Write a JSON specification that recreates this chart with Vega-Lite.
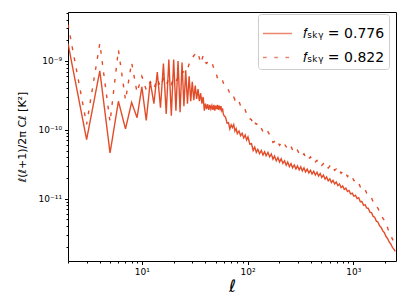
{
"$schema": "https://vega.github.io/schema/vega-lite/v6.json",
"width": 328, "height": 249,
"autosize": {"type": "none"},
"padding": {"left": 68, "top": 12, "right": 11, "bottom": 44},
"background": "white",
"config": {"view": {"stroke": "#000", "strokeWidth": 1}, "font": "DejaVu Sans",
  "legend": {"orient": "none", "legendX": 190, "legendY": 2, "labelFontSize": 14, "labelFont": "DejaVu Sans", "labelColor": "#000", "symbolType": "stroke", "symbolSize": 841, "symbolStrokeWidth": 1.5, "symbolOpacity": 0.6, "strokeColor": "#cccccc", "fillColor": "white", "padding": 4, "cornerRadius": 3, "rowPadding": 1, "labelOffset": 10}},
"data": {"values": [
{"l":2,"c":1.8e-9,"fsky":"0.776"},{"l":3,"c":7.2e-11,"fsky":"0.776"},{"l":4,"c":7.2e-10,"fsky":"0.776"},{"l":5,"c":4.6e-11,"fsky":"0.776"},{"l":6,"c":2.6e-10,"fsky":"0.776"},{"l":7,"c":1.03e-10,"fsky":"0.776"},{"l":8,"c":2.5e-10,"fsky":"0.776"},{"l":9,"c":1.5e-10,"fsky":"0.776"},{"l":10,"c":4.2e-10,"fsky":"0.776"},{"l":11,"c":1.37e-10,"fsky":"0.776"},{"l":12,"c":5.0e-10,"fsky":"0.776"},{"l":13,"c":2.4e-10,"fsky":"0.776"},{"l":14,"c":6.9e-10,"fsky":"0.776"},{"l":15,"c":2.1e-10,"fsky":"0.776"},{"l":16,"c":9.2e-10,"fsky":"0.776"},{"l":17,"c":1.7e-10,"fsky":"0.776"},{"l":18,"c":1.05e-9,"fsky":"0.776"},{"l":19,"c":1.6e-10,"fsky":"0.776"},{"l":20,"c":1.05e-9,"fsky":"0.776"},{"l":21,"c":1.9e-10,"fsky":"0.776"},{"l":22,"c":1.0e-9,"fsky":"0.776"},{"l":23,"c":1.8e-10,"fsky":"0.776"},{"l":24,"c":9.5e-10,"fsky":"0.776"},{"l":25,"c":2.2e-10,"fsky":"0.776"},{"l":26,"c":7.3e-10,"fsky":"0.776"},{"l":27,"c":2.4e-10,"fsky":"0.776"},{"l":28,"c":6.0e-10,"fsky":"0.776"},{"l":29,"c":2.6e-10,"fsky":"0.776"},{"l":30,"c":5.0e-10,"fsky":"0.776"},{"l":31,"c":2.7e-10,"fsky":"0.776"},{"l":32,"c":4.4e-10,"fsky":"0.776"},{"l":33,"c":2.8e-10,"fsky":"0.776"},{"l":34,"c":3.9e-10,"fsky":"0.776"},{"l":35,"c":2.6e-10,"fsky":"0.776"},{"l":36,"c":3.4e-10,"fsky":"0.776"},{"l":37,"c":2.4e-10,"fsky":"0.776"},{"l":38,"c":3.0e-10,"fsky":"0.776"},{"l":39,"c":1.9e-10,"fsky":"0.776"},{"l":40,"c":2.4e-10,"fsky":"0.776"},{"l":41,"c":2.0e-10,"fsky":"0.776"},{"l":42,"c":2.35e-10,"fsky":"0.776"},{"l":43,"c":1.95e-10,"fsky":"0.776"},{"l":44,"c":2.3e-10,"fsky":"0.776"},{"l":45,"c":2.0e-10,"fsky":"0.776"},{"l":46,"c":2.25e-10,"fsky":"0.776"},{"l":47,"c":1.95e-10,"fsky":"0.776"},{"l":48,"c":2.3e-10,"fsky":"0.776"},{"l":49,"c":1.9e-10,"fsky":"0.776"},{"l":50,"c":2.25e-10,"fsky":"0.776"},{"l":51,"c":2.0e-10,"fsky":"0.776"},{"l":52,"c":2.3e-10,"fsky":"0.776"},{"l":53,"c":1.95e-10,"fsky":"0.776"},{"l":54,"c":2.25e-10,"fsky":"0.776"},{"l":55,"c":2.0e-10,"fsky":"0.776"},{"l":56,"c":2.2e-10,"fsky":"0.776"},{"l":57,"c":1.9e-10,"fsky":"0.776"},{"l":58,"c":2.05e-10,"fsky":"0.776"},{"l":59,"c":1.7e-10,"fsky":"0.776"},{"l":60,"c":1.6e-10,"fsky":"0.776"},
{"l":62,"c":1.52e-10,"fsky":"0.776"},{"l":64,"c":1.25e-10,"fsky":"0.776"},{"l":66,"c":1.27e-10,"fsky":"0.776"},{"l":68,"c":1.03e-10,"fsky":"0.776"},{"l":70,"c":1.18e-10,"fsky":"0.776"},{"l":72,"c":1.08e-10,"fsky":"0.776"},{"l":74,"c":1.19e-10,"fsky":"0.776"},{"l":76,"c":9.6e-11,"fsky":"0.776"},{"l":78,"c":1.04e-10,"fsky":"0.776"},{"l":80,"c":8.8e-11,"fsky":"0.776"},{"l":83,"c":9.6e-11,"fsky":"0.776"},{"l":86,"c":8.2e-11,"fsky":"0.776"},{"l":89,"c":8.9e-11,"fsky":"0.776"},{"l":92,"c":7.6e-11,"fsky":"0.776"},{"l":95,"c":8.4e-11,"fsky":"0.776"},{"l":98,"c":7.1e-11,"fsky":"0.776"},{"l":101,"c":7.9e-11,"fsky":"0.776"},{"l":105,"c":6.2e-11,"fsky":"0.776"},{"l":109,"c":6.3e-11,"fsky":"0.776"},{"l":113,"c":5.0e-11,"fsky":"0.776"},{"l":117,"c":5.6e-11,"fsky":"0.776"},{"l":121,"c":4.7e-11,"fsky":"0.776"},{"l":125,"c":5.2e-11,"fsky":"0.776"},{"l":130,"c":4.5e-11,"fsky":"0.776"},{"l":135,"c":5.0e-11,"fsky":"0.776"},{"l":140,"c":4.3e-11,"fsky":"0.776"},{"l":145,"c":4.8e-11,"fsky":"0.776"},{"l":150,"c":4.2e-11,"fsky":"0.776"},{"l":156,"c":4.7e-11,"fsky":"0.776"},{"l":162,"c":4.05e-11,"fsky":"0.776"},{"l":168,"c":4.45e-11,"fsky":"0.776"},{"l":174,"c":3.75e-11,"fsky":"0.776"},{"l":180,"c":4.15e-11,"fsky":"0.776"},{"l":187,"c":3.55e-11,"fsky":"0.776"},{"l":194,"c":3.95e-11,"fsky":"0.776"},{"l":201,"c":3.4e-11,"fsky":"0.776"},{"l":208,"c":3.8e-11,"fsky":"0.776"},{"l":216,"c":3.25e-11,"fsky":"0.776"},{"l":224,"c":3.55e-11,"fsky":"0.776"},{"l":232,"c":3.05e-11,"fsky":"0.776"},{"l":240,"c":3.4e-11,"fsky":"0.776"},{"l":249,"c":2.92e-11,"fsky":"0.776"},{"l":258,"c":3.22e-11,"fsky":"0.776"},{"l":267,"c":2.8e-11,"fsky":"0.776"},{"l":277,"c":3.08e-11,"fsky":"0.776"},{"l":287,"c":2.7e-11,"fsky":"0.776"},{"l":297,"c":2.98e-11,"fsky":"0.776"},{"l":308,"c":2.62e-11,"fsky":"0.776"},{"l":319,"c":2.9e-11,"fsky":"0.776"},{"l":330,"c":2.53e-11,"fsky":"0.776"},{"l":342,"c":2.79e-11,"fsky":"0.776"},{"l":354,"c":2.44e-11,"fsky":"0.776"},{"l":367,"c":2.68e-11,"fsky":"0.776"},{"l":380,"c":2.36e-11,"fsky":"0.776"},{"l":394,"c":2.58e-11,"fsky":"0.776"},{"l":408,"c":2.28e-11,"fsky":"0.776"},{"l":423,"c":2.5e-11,"fsky":"0.776"},{"l":438,"c":2.2e-11,"fsky":"0.776"},{"l":454,"c":2.41e-11,"fsky":"0.776"},{"l":470,"c":2.13e-11,"fsky":"0.776"},{"l":487,"c":2.32e-11,"fsky":"0.776"},{"l":504,"c":2.03e-11,"fsky":"0.776"},{"l":522,"c":2.2e-11,"fsky":"0.776"},{"l":541,"c":1.92e-11,"fsky":"0.776"},{"l":560,"c":2.07e-11,"fsky":"0.776"},{"l":580,"c":1.81e-11,"fsky":"0.776"},{"l":601,"c":1.94e-11,"fsky":"0.776"},{"l":622,"c":1.71e-11,"fsky":"0.776"},{"l":644,"c":1.84e-11,"fsky":"0.776"},{"l":667,"c":1.63e-11,"fsky":"0.776"},{"l":691,"c":1.74e-11,"fsky":"0.776"},{"l":716,"c":1.55e-11,"fsky":"0.776"},{"l":741,"c":1.63e-11,"fsky":"0.776"},{"l":768,"c":1.45e-11,"fsky":"0.776"},{"l":795,"c":1.53e-11,"fsky":"0.776"},{"l":823,"c":1.36e-11,"fsky":"0.776"},{"l":852,"c":1.42e-11,"fsky":"0.776"},{"l":882,"c":1.27e-11,"fsky":"0.776"},{"l":914,"c":1.31e-11,"fsky":"0.776"},{"l":946,"c":1.17e-11,"fsky":"0.776"},{"l":980,"c":1.2e-11,"fsky":"0.776"},{"l":1015,"c":1.08e-11,"fsky":"0.776"},{"l":1051,"c":1.12e-11,"fsky":"0.776"},{"l":1088,"c":1.0e-11,"fsky":"0.776"},{"l":1127,"c":1.03e-11,"fsky":"0.776"},{"l":1167,"c":9.0e-12,"fsky":"0.776"},{"l":1209,"c":9.1e-12,"fsky":"0.776"},{"l":1252,"c":8.0e-12,"fsky":"0.776"},{"l":1296,"c":8.15e-12,"fsky":"0.776"},{"l":1342,"c":7.3e-12,"fsky":"0.776"},{"l":1390,"c":7.2e-12,"fsky":"0.776"},{"l":1440,"c":6.35e-12,"fsky":"0.776"},{"l":1491,"c":6.25e-12,"fsky":"0.776"},{"l":1544,"c":5.5e-12,"fsky":"0.776"},{"l":1599,"c":5.33e-12,"fsky":"0.776"},{"l":1656,"c":4.7e-12,"fsky":"0.776"},{"l":1715,"c":4.55e-12,"fsky":"0.776"},{"l":1776,"c":4.02e-12,"fsky":"0.776"},{"l":1839,"c":3.82e-12,"fsky":"0.776"},{"l":1905,"c":3.39e-12,"fsky":"0.776"},{"l":1972,"c":3.2e-12,"fsky":"0.776"},{"l":2043,"c":2.81e-12,"fsky":"0.776"},{"l":2115,"c":2.63e-12,"fsky":"0.776"},{"l":2190,"c":2.35e-12,"fsky":"0.776"},{"l":2268,"c":2.19e-12,"fsky":"0.776"},{"l":2349,"c":1.96e-12,"fsky":"0.776"},{"l":2433,"c":1.83e-12,"fsky":"0.776"},{"l":2500,"c":1.71e-12,"fsky":"0.776"},
{"l":2,"c":3.4e-9,"fsky":"0.822"},{"l":3,"c":1.2e-10,"fsky":"0.822"},{"l":4,"c":1.8e-9,"fsky":"0.822"},{"l":5,"c":1.3e-10,"fsky":"0.822"},{"l":6,"c":1.45e-9,"fsky":"0.822"},{"l":7,"c":2.7e-10,"fsky":"0.822"},{"l":8,"c":9.5e-10,"fsky":"0.822"},{"l":9,"c":3.5e-10,"fsky":"0.822"},{"l":10,"c":6.0e-10,"fsky":"0.822"},{"l":11,"c":3.8e-10,"fsky":"0.822"},{"l":12,"c":5.0e-10,"fsky":"0.822"},{"l":13,"c":4.0e-10,"fsky":"0.822"},{"l":14,"c":5.5e-10,"fsky":"0.822"},{"l":15,"c":4.2e-10,"fsky":"0.822"},{"l":16,"c":5.5e-10,"fsky":"0.822"},{"l":17,"c":4.5e-10,"fsky":"0.822"},{"l":18,"c":5.5e-10,"fsky":"0.822"},{"l":19,"c":4.6e-10,"fsky":"0.822"},{"l":20,"c":5.6e-10,"fsky":"0.822"},{"l":21,"c":5.0e-10,"fsky":"0.822"},{"l":22,"c":5.8e-10,"fsky":"0.822"},{"l":23,"c":5.6e-10,"fsky":"0.822"},{"l":24,"c":6.8e-10,"fsky":"0.822"},{"l":25,"c":7.0e-10,"fsky":"0.822"},{"l":26,"c":7.8e-10,"fsky":"0.822"},{"l":27,"c":7.6e-10,"fsky":"0.822"},{"l":28,"c":9.0e-10,"fsky":"0.822"},{"l":29,"c":1.0e-9,"fsky":"0.822"},{"l":30,"c":1.1e-9,"fsky":"0.822"},{"l":31,"c":1.2e-9,"fsky":"0.822"},{"l":32,"c":1.25e-9,"fsky":"0.822"},{"l":33,"c":1.35e-9,"fsky":"0.822"},{"l":34,"c":1.3e-9,"fsky":"0.822"},{"l":35,"c":1.1e-9,"fsky":"0.822"},{"l":36,"c":9.3e-10,"fsky":"0.822"},{"l":37,"c":1.05e-9,"fsky":"0.822"},{"l":38,"c":1.2e-9,"fsky":"0.822"},{"l":39,"c":1.05e-9,"fsky":"0.822"},{"l":40,"c":9.5e-10,"fsky":"0.822"},{"l":41,"c":9.2e-10,"fsky":"0.822"},{"l":42,"c":9.8e-10,"fsky":"0.822"},{"l":43,"c":1.02e-9,"fsky":"0.822"},{"l":44,"c":9.8e-10,"fsky":"0.822"},{"l":45,"c":9.6e-10,"fsky":"0.822"},{"l":46,"c":9.5e-10,"fsky":"0.822"},{"l":47,"c":8.6e-10,"fsky":"0.822"},{"l":48,"c":7.8e-10,"fsky":"0.822"},{"l":49,"c":7.2e-10,"fsky":"0.822"},{"l":50,"c":6.8e-10,"fsky":"0.822"},{"l":51,"c":6.2e-10,"fsky":"0.822"},{"l":52,"c":5.6e-10,"fsky":"0.822"},{"l":53,"c":5.3e-10,"fsky":"0.822"},{"l":54,"c":5.4e-10,"fsky":"0.822"},{"l":55,"c":5.6e-10,"fsky":"0.822"},{"l":56,"c":5.5e-10,"fsky":"0.822"},{"l":57,"c":5.4e-10,"fsky":"0.822"},{"l":58,"c":5.2e-10,"fsky":"0.822"},{"l":59,"c":4.8e-10,"fsky":"0.822"},{"l":60,"c":4.6e-10,"fsky":"0.822"},
{"l":62,"c":4.5e-10,"fsky":"0.822"},{"l":64,"c":3.9e-10,"fsky":"0.822"},{"l":66,"c":3.8e-10,"fsky":"0.822"},{"l":68,"c":3.35e-10,"fsky":"0.822"},{"l":70,"c":3.4e-10,"fsky":"0.822"},{"l":72,"c":3.0e-10,"fsky":"0.822"},{"l":74,"c":3.0e-10,"fsky":"0.822"},{"l":76,"c":2.72e-10,"fsky":"0.822"},{"l":78,"c":2.85e-10,"fsky":"0.822"},{"l":80,"c":2.56e-10,"fsky":"0.822"},{"l":83,"c":2.6e-10,"fsky":"0.822"},{"l":86,"c":2.22e-10,"fsky":"0.822"},{"l":89,"c":2.23e-10,"fsky":"0.822"},{"l":92,"c":1.93e-10,"fsky":"0.822"},{"l":95,"c":1.95e-10,"fsky":"0.822"},{"l":98,"c":1.69e-10,"fsky":"0.822"},{"l":101,"c":1.68e-10,"fsky":"0.822"},{"l":105,"c":1.45e-10,"fsky":"0.822"},{"l":109,"c":1.4e-10,"fsky":"0.822"},{"l":113,"c":1.16e-10,"fsky":"0.822"},{"l":117,"c":1.27e-10,"fsky":"0.822"},{"l":121,"c":1.2e-10,"fsky":"0.822"},{"l":125,"c":1.25e-10,"fsky":"0.822"},{"l":130,"c":1.06e-10,"fsky":"0.822"},{"l":135,"c":1.06e-10,"fsky":"0.822"},{"l":140,"c":9.3e-11,"fsky":"0.822"},{"l":145,"c":9.9e-11,"fsky":"0.822"},{"l":150,"c":9.0e-11,"fsky":"0.822"},{"l":156,"c":9.35e-11,"fsky":"0.822"},{"l":162,"c":8.5e-11,"fsky":"0.822"},{"l":168,"c":7.9e-11,"fsky":"0.822"},{"l":174,"c":6.55e-11,"fsky":"0.822"},{"l":180,"c":6.75e-11,"fsky":"0.822"},{"l":187,"c":6.05e-11,"fsky":"0.822"},{"l":194,"c":6.55e-11,"fsky":"0.822"},{"l":201,"c":5.95e-11,"fsky":"0.822"},{"l":208,"c":6.4e-11,"fsky":"0.822"},{"l":216,"c":5.8e-11,"fsky":"0.822"},{"l":224,"c":6.2e-11,"fsky":"0.822"},{"l":232,"c":5.65e-11,"fsky":"0.822"},{"l":240,"c":6.05e-11,"fsky":"0.822"},{"l":249,"c":5.45e-11,"fsky":"0.822"},{"l":258,"c":5.72e-11,"fsky":"0.822"},{"l":267,"c":5.08e-11,"fsky":"0.822"},{"l":277,"c":5.3e-11,"fsky":"0.822"},{"l":287,"c":4.75e-11,"fsky":"0.822"},{"l":297,"c":5.05e-11,"fsky":"0.822"},{"l":308,"c":4.5e-11,"fsky":"0.822"},{"l":319,"c":4.73e-11,"fsky":"0.822"},{"l":330,"c":4.24e-11,"fsky":"0.822"},{"l":342,"c":4.47e-11,"fsky":"0.822"},{"l":354,"c":4.0e-11,"fsky":"0.822"},{"l":367,"c":4.25e-11,"fsky":"0.822"},{"l":380,"c":3.82e-11,"fsky":"0.822"},{"l":394,"c":4.04e-11,"fsky":"0.822"},{"l":408,"c":3.63e-11,"fsky":"0.822"},{"l":423,"c":3.8e-11,"fsky":"0.822"},{"l":438,"c":3.42e-11,"fsky":"0.822"},{"l":454,"c":3.59e-11,"fsky":"0.822"},{"l":470,"c":3.22e-11,"fsky":"0.822"},{"l":487,"c":3.38e-11,"fsky":"0.822"},{"l":504,"c":3.05e-11,"fsky":"0.822"},{"l":522,"c":3.22e-11,"fsky":"0.822"},{"l":541,"c":2.91e-11,"fsky":"0.822"},{"l":560,"c":3.09e-11,"fsky":"0.822"},{"l":580,"c":2.79e-11,"fsky":"0.822"},{"l":601,"c":2.97e-11,"fsky":"0.822"},{"l":622,"c":2.69e-11,"fsky":"0.822"},{"l":644,"c":2.85e-11,"fsky":"0.822"},{"l":667,"c":2.57e-11,"fsky":"0.822"},{"l":691,"c":2.71e-11,"fsky":"0.822"},{"l":716,"c":2.43e-11,"fsky":"0.822"},{"l":741,"c":2.58e-11,"fsky":"0.822"},{"l":768,"c":2.33e-11,"fsky":"0.822"},{"l":795,"c":2.46e-11,"fsky":"0.822"},{"l":823,"c":2.22e-11,"fsky":"0.822"},{"l":852,"c":2.33e-11,"fsky":"0.822"},{"l":882,"c":2.09e-11,"fsky":"0.822"},{"l":914,"c":2.2e-11,"fsky":"0.822"},{"l":946,"c":1.96e-11,"fsky":"0.822"},{"l":980,"c":2.03e-11,"fsky":"0.822"},{"l":1015,"c":1.82e-11,"fsky":"0.822"},{"l":1051,"c":1.86e-11,"fsky":"0.822"},{"l":1088,"c":1.64e-11,"fsky":"0.822"},{"l":1127,"c":1.68e-11,"fsky":"0.822"},{"l":1167,"c":1.48e-11,"fsky":"0.822"},{"l":1209,"c":1.51e-11,"fsky":"0.822"},{"l":1252,"c":1.33e-11,"fsky":"0.822"},{"l":1296,"c":1.35e-11,"fsky":"0.822"},{"l":1342,"c":1.2e-11,"fsky":"0.822"},{"l":1390,"c":1.2e-11,"fsky":"0.822"},{"l":1440,"c":1.05e-11,"fsky":"0.822"},{"l":1491,"c":1.03e-11,"fsky":"0.822"},{"l":1544,"c":8.95e-12,"fsky":"0.822"},{"l":1599,"c":8.7e-12,"fsky":"0.822"},{"l":1656,"c":7.6e-12,"fsky":"0.822"},{"l":1715,"c":7.25e-12,"fsky":"0.822"},{"l":1776,"c":6.35e-12,"fsky":"0.822"},{"l":1839,"c":6.0e-12,"fsky":"0.822"},{"l":1905,"c":5.2e-12,"fsky":"0.822"},{"l":1972,"c":4.83e-12,"fsky":"0.822"},{"l":2043,"c":4.12e-12,"fsky":"0.822"},{"l":2115,"c":3.76e-12,"fsky":"0.822"},{"l":2190,"c":3.2e-12,"fsky":"0.822"},{"l":2268,"c":2.95e-12,"fsky":"0.822"},{"l":2349,"c":2.57e-12,"fsky":"0.822"},{"l":2433,"c":2.38e-12,"fsky":"0.822"},{"l":2500,"c":2.2e-12,"fsky":"0.822"}
]},
"mark": {"type": "line", "strokeWidth": 1.4, "opacity": 0.9, "clip": true},
"encoding": {
  "x": {"field": "l", "type": "quantitative",
    "scale": {"type": "log", "domain": [2, 2540], "nice": false},
    "axis": {"values": [2,3,4,5,6,7,8,9,10,20,30,40,50,60,70,80,90,100,200,300,400,500,600,700,800,900,1000,2000],
      "labelExpr": "datum.value == 10 ? '10¹' : datum.value == 100 ? '10²' : datum.value == 1000 ? '10³' : ''",
      "tickSize": {"condition": {"test": "datum.value == 10 || datum.value == 100 || datum.value == 1000", "value": 3.5}, "value": 2},
      "title": "ℓ", "titleFontSize": 17, "titleFontStyle": "italic", "titleFontWeight": "normal", "titleY": 30, "titleBaseline": "alphabetic",
      "labelFontSize": 9, "labelPadding": 3, "labelOverlap": false, "labelBound": false, "labelFlush": false,
      "grid": false, "domain": false, "tickColor": "#000", "labelColor": "#000", "titleColor": "#000"}},
  "y": {"field": "c", "type": "quantitative",
    "scale": {"type": "log", "domain": [1.24e-12, 5.15e-9], "nice": false},
    "axis": {"values": [2e-12,3e-12,4e-12,5e-12,6e-12,7e-12,8e-12,9e-12,1e-11,2e-11,3e-11,4e-11,5e-11,6e-11,7e-11,8e-11,9e-11,1e-10,2e-10,3e-10,4e-10,5e-10,6e-10,7e-10,8e-10,9e-10,1e-9,2e-9,3e-9,4e-9,5e-9],
      "labelExpr": "datum.value == 1e-9 ? '10⁻⁹' : datum.value == 1e-10 ? '10⁻¹⁰' : datum.value == 1e-11 ? '10⁻¹¹' : ''",
      "tickSize": {"condition": {"test": "datum.value == 1e-9 || datum.value == 1e-10 || datum.value == 1e-11", "value": 3.5}, "value": 2},
      "title": "ℓ(ℓ+1)/2π Cℓ [K²]", "titleFontSize": 11, "titleFontWeight": "normal", "titleX": -46, "titleY": 124.5, "titleAngle": 270, "titleAlign": "center", "titleBaseline": "middle",
      "labelFontSize": 9, "labelPadding": 3, "labelOverlap": false, "labelBound": false, "labelFlush": false,
      "grid": false, "domain": false, "tickColor": "#000", "labelColor": "#000", "titleColor": "#000"}},
  "color": {"field": "fsky", "type": "nominal", "scale": {"domain": ["0.776", "0.822"], "range": ["#e03812", "#e03812"]},
    "legend": {"title": null, "labelExpr": "'𝑓ₛₖᵧ = ' + datum.label"}},
  "strokeDash": {"field": "fsky", "type": "nominal", "scale": {"domain": ["0.776", "0.822"], "range": [[1, 0], [3.7, 7.5]]},
    "legend": {"title": null, "labelExpr": "'𝑓ₛₖᵧ = ' + datum.label"}}
}
}
